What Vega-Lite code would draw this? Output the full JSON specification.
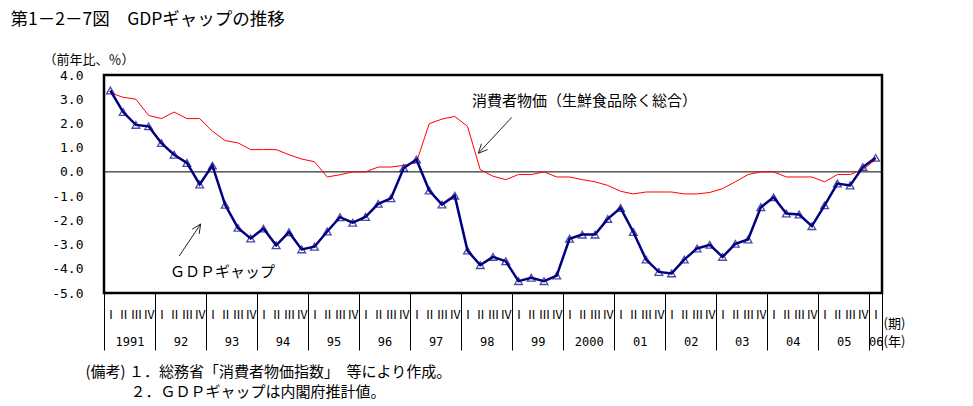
{
  "$schema": "https://vega.github.io/schema/vega-lite/v6.json",
  "width": 778,
  "height": 218,
  "autosize": {"type": "none"},
  "padding": {"left": 104, "top": 75, "right": 91, "bottom": 113},
  "background": "white",
  "config": {
    "view": {"stroke": "black", "strokeWidth": 2.5},
    "font": "Noto Sans CJK JP",
    "axis": {"grid": false},
    "axisY": {
      "ticks": false, "domain": false, "grid": false,
      "labelFont": "DejaVu Sans Mono", "labelFontSize": 13, "labelColor": "black",
      "labelPadding": 21, "labelBaseline": "middle", "labelOverlap": false,
      "titleX": -61, "titleY": -16, "titleAngle": 0,
      "titleAlign": "left", "titleBaseline": "middle",
      "titleFont": "Noto Sans CJK JP", "titleFontSize": 13, "titleFontWeight": "normal", "titleColor": "black"
    }
  },
  "datasets": {
    "series": [
      {"i": 0, "gdp": 3.36, "cpi": 3.26},
      {"i": 1, "gdp": 2.47, "cpi": 3.08},
      {"i": 2, "gdp": 1.94, "cpi": 3.0},
      {"i": 3, "gdp": 1.88, "cpi": 2.33},
      {"i": 4, "gdp": 1.19, "cpi": 2.2},
      {"i": 5, "gdp": 0.71, "cpi": 2.47},
      {"i": 6, "gdp": 0.37, "cpi": 2.2},
      {"i": 7, "gdp": -0.52, "cpi": 2.2},
      {"i": 8, "gdp": 0.26, "cpi": 1.68},
      {"i": 9, "gdp": -1.36, "cpi": 1.29},
      {"i": 10, "gdp": -2.31, "cpi": 1.2},
      {"i": 11, "gdp": -2.75, "cpi": 0.92},
      {"i": 12, "gdp": -2.34, "cpi": 0.92},
      {"i": 13, "gdp": -3.03, "cpi": 0.92},
      {"i": 14, "gdp": -2.49, "cpi": 0.71},
      {"i": 15, "gdp": -3.2, "cpi": 0.53},
      {"i": 16, "gdp": -3.09, "cpi": 0.42},
      {"i": 17, "gdp": -2.46, "cpi": -0.21},
      {"i": 18, "gdp": -1.87, "cpi": -0.12},
      {"i": 19, "gdp": -2.1, "cpi": 0.0},
      {"i": 20, "gdp": -1.86, "cpi": 0.0},
      {"i": 21, "gdp": -1.32, "cpi": 0.2},
      {"i": 22, "gdp": -1.09, "cpi": 0.2},
      {"i": 23, "gdp": 0.16, "cpi": 0.27},
      {"i": 24, "gdp": 0.51, "cpi": 0.4},
      {"i": 25, "gdp": -0.77, "cpi": 1.99},
      {"i": 26, "gdp": -1.35, "cpi": 2.18},
      {"i": 27, "gdp": -0.98, "cpi": 2.29},
      {"i": 28, "gdp": -3.25, "cpi": 1.88},
      {"i": 29, "gdp": -3.85, "cpi": 0.09},
      {"i": 30, "gdp": -3.51, "cpi": -0.18},
      {"i": 31, "gdp": -3.69, "cpi": -0.32},
      {"i": 32, "gdp": -4.51, "cpi": -0.11},
      {"i": 33, "gdp": -4.37, "cpi": -0.11},
      {"i": 34, "gdp": -4.51, "cpi": 0.0},
      {"i": 35, "gdp": -4.28, "cpi": -0.21},
      {"i": 36, "gdp": -2.76, "cpi": -0.21},
      {"i": 37, "gdp": -2.59, "cpi": -0.32},
      {"i": 38, "gdp": -2.59, "cpi": -0.41},
      {"i": 39, "gdp": -1.94, "cpi": -0.56},
      {"i": 40, "gdp": -1.49, "cpi": -0.8},
      {"i": 41, "gdp": -2.48, "cpi": -0.91},
      {"i": 42, "gdp": -3.62, "cpi": -0.83},
      {"i": 43, "gdp": -4.13, "cpi": -0.83},
      {"i": 44, "gdp": -4.19, "cpi": -0.83},
      {"i": 45, "gdp": -3.62, "cpi": -0.91},
      {"i": 46, "gdp": -3.16, "cpi": -0.91},
      {"i": 47, "gdp": -3.01, "cpi": -0.85},
      {"i": 48, "gdp": -3.51, "cpi": -0.69},
      {"i": 49, "gdp": -2.97, "cpi": -0.41},
      {"i": 50, "gdp": -2.79, "cpi": -0.11},
      {"i": 51, "gdp": -1.46, "cpi": 0.0},
      {"i": 52, "gdp": -1.05, "cpi": 0.0},
      {"i": 53, "gdp": -1.72, "cpi": -0.21},
      {"i": 54, "gdp": -1.76, "cpi": -0.21},
      {"i": 55, "gdp": -2.24, "cpi": -0.21},
      {"i": 56, "gdp": -1.38, "cpi": -0.41},
      {"i": 57, "gdp": -0.48, "cpi": -0.11},
      {"i": 58, "gdp": -0.56, "cpi": -0.11},
      {"i": 59, "gdp": 0.2, "cpi": 0.1},
      {"i": 60, "gdp": 0.58, "cpi": 0.5}
    ],
    "zero": [{"v": 0}],
    "notes": [
      {"i": 28.35, "v": 2.93, "label": "消費者物価（生鮮食品除く総合）"},
      {"i": 4.67, "v": -4.12, "label": "ＧＤＰギャップ"}
    ],
    "arrows": [
      {"i": 31.47, "v": 2.25, "i2": 28.85, "v2": 0.77},
      {"i": 28.85, "v": 0.77, "i2": 29.58, "v2": 0.92},
      {"i": 28.85, "v": 0.77, "i2": 29.09, "v2": 1.16},
      {"i": 5.4, "v": -3.47, "i2": 7.08, "v2": -2.15},
      {"i": 7.08, "v": -2.15, "i2": 6.41, "v2": -2.37},
      {"i": 7.08, "v": -2.15, "i2": 6.96, "v2": -2.56}
    ]
  },
  "resolve": {"axis": {"x": "independent"}},
  "layer": [
    {
      "data": {"name": "zero"},
      "mark": {"type": "rule", "color": "black", "strokeWidth": 1},
      "encoding": {
        "y": {"field": "v", "type": "quantitative", "scale": {"domain": [-5, 4], "nice": false, "zero": false},
          "axis": {"values": [-5, -4, -3, -2, -1, 0, 1, 2, 3, 4], "labelExpr": "(datum.value < 0 ? '-' : '') + abs(datum.value) + '.0'", "title": "（前年比、％）"}}
      }
    },
    {
      "data": {"name": "series"},
      "mark": {"type": "line", "color": "#ff0000", "strokeWidth": 1},
      "encoding": {
        "x": {
          "field": "i", "type": "quantitative",
          "scale": {"domain": [-0.5, 60.5], "nice": false, "zero": false},
          "axis": {
            "orient": "bottom",
            "values": [1.5, 5.5, 9.5, 13.5, 17.5, 21.5, 25.5, 29.5, 33.5, 37.5, 41.5, 45.5, 49.5, 53.5, 57.5, 60],
            "labelExpr": "(1991 + floor(datum.value / 4)) == 1991 || (1991 + floor(datum.value / 4)) == 2000 ? toString(1991 + floor(datum.value / 4)) : substring(toString(1991 + floor(datum.value / 4)), 2)",
            "ticks": false, "domain": false, "grid": false,
            "labelFont": "DejaVu Sans Mono", "labelFontSize": 12, "labelColor": "black",
            "labelPadding": 48, "labelBaseline": "middle", "labelAlign": "center",
            "labelOverlap": false, "labelFlush": false,
            "title": "(年)", "titleX": 779, "titleY": 48, "titleAlign": "left", "titleBaseline": "middle",
            "titleFont": "Noto Sans CJK JP", "titleFontSize": 13, "titleFontWeight": "normal", "titleColor": "black"
          }
        },
        "y": {"field": "cpi", "type": "quantitative", "scale": {"domain": [-5, 4], "nice": false, "zero": false},
          "axis": {"values": [-5, -4, -3, -2, -1, 0, 1, 2, 3, 4], "labelExpr": "(datum.value < 0 ? '-' : '') + abs(datum.value) + '.0'", "title": "（前年比、％）"}}
      }
    },
    {
      "data": {"name": "series"},
      "mark": {"type": "line", "color": "#000080", "strokeWidth": 2.5},
      "encoding": {
        "x": {
          "field": "i", "type": "quantitative",
          "scale": {"domain": [-0.5, 60.5], "nice": false, "zero": false},
          "axis": {
            "orient": "bottom",
            "values": [0,1,2,3,4,5,6,7,8,9,10,11,12,13,14,15,16,17,18,19,20,21,22,23,24,25,26,27,28,29,30,31,32,33,34,35,36,37,38,39,40,41,42,43,44,45,46,47,48,49,50,51,52,53,54,55,56,57,58,59,60],
            "labelExpr": "['Ⅰ','Ⅱ','Ⅲ','Ⅳ'][datum.value % 4]",
            "ticks": false, "domain": false, "grid": false,
            "labelFont": "Noto Sans CJK JP", "labelFontSize": 12, "labelColor": "black",
            "labelPadding": 21, "labelBaseline": "middle", "labelAlign": "center",
            "labelOverlap": false, "labelFlush": false,
            "title": "(期)", "titleX": 779, "titleY": 30, "titleAlign": "left", "titleBaseline": "middle",
            "titleFont": "Noto Sans CJK JP", "titleFontSize": 13, "titleFontWeight": "normal", "titleColor": "black"
          }
        },
        "y": {"field": "gdp", "type": "quantitative", "scale": {"domain": [-5, 4], "nice": false, "zero": false},
          "axis": {"values": [-5, -4, -3, -2, -1, 0, 1, 2, 3, 4], "labelExpr": "(datum.value < 0 ? '-' : '') + abs(datum.value) + '.0'", "title": "（前年比、％）"}}
      }
    },
    {
      "data": {"name": "series"},
      "mark": {"type": "point", "shape": "triangle-up", "filled": false, "color": "#000080", "size": 60, "strokeWidth": 1.3},
      "encoding": {
        "x": {
          "field": "i", "type": "quantitative",
          "scale": {"domain": [-0.5, 60.5], "nice": false, "zero": false},
          "axis": {
            "orient": "bottom",
            "values": [-0.5, 3.5, 7.5, 11.5, 15.5, 19.5, 23.5, 27.5, 31.5, 35.5, 39.5, 43.5, 47.5, 51.5, 55.5, 59.5, 60.5],
            "labels": false, "ticks": true, "tickSize": 57, "tickColor": "black", "tickWidth": 1,
            "domain": false, "grid": false,
            "title": "(備考) １．総務省「消費者物価指数」　等により作成。",
            "titleX": -19, "titleY": 78, "titleAlign": "left", "titleBaseline": "middle",
            "titleFont": "Noto Sans CJK JP", "titleFontSize": 15, "titleFontWeight": "normal", "titleColor": "black"
          }
        },
        "y": {"field": "gdp", "type": "quantitative", "scale": {"domain": [-5, 4], "nice": false, "zero": false},
          "axis": {"values": [-5, -4, -3, -2, -1, 0, 1, 2, 3, 4], "labelExpr": "(datum.value < 0 ? '-' : '') + abs(datum.value) + '.0'", "title": "（前年比、％）"}}
      }
    },
    {
      "data": {"name": "notes"},
      "mark": {"type": "text", "font": "Noto Sans CJK JP", "fontSize": 15, "color": "black", "align": "left", "baseline": "middle"},
      "encoding": {
        "x": {
          "field": "i", "type": "quantitative",
          "scale": {"domain": [-0.5, 60.5], "nice": false, "zero": false},
          "axis": {
            "orient": "top", "values": [], "labels": false, "ticks": false, "domain": false, "grid": false,
            "title": "第1－2－7図　GDPギャップの推移",
            "titleX": -94, "titleY": -55.5, "titleAlign": "left", "titleBaseline": "middle",
            "titleFont": "Noto Sans CJK JP", "titleFontSize": 17.5, "titleFontWeight": "normal", "titleColor": "black"
          }
        },
        "y": {"field": "v", "type": "quantitative", "scale": {"domain": [-5, 4], "nice": false, "zero": false},
          "axis": {"values": [-5, -4, -3, -2, -1, 0, 1, 2, 3, 4], "labelExpr": "(datum.value < 0 ? '-' : '') + abs(datum.value) + '.0'", "title": "（前年比、％）"}},
        "text": {"field": "label"}
      }
    },
    {
      "data": {"name": "arrows"},
      "mark": {"type": "rule", "color": "#222222", "strokeWidth": 1},
      "encoding": {
        "x": {
          "field": "i", "type": "quantitative",
          "scale": {"domain": [-0.5, 60.5], "nice": false, "zero": false},
          "axis": {
            "orient": "bottom", "values": [], "labels": false, "ticks": false, "domain": false, "grid": false,
            "title": "２．ＧＤＰギャップは内閣府推計値。",
            "titleX": 26, "titleY": 98, "titleAlign": "left", "titleBaseline": "middle",
            "titleFont": "Noto Sans CJK JP", "titleFontSize": 15, "titleFontWeight": "normal", "titleColor": "black"
          }
        },
        "y": {"field": "v", "type": "quantitative", "scale": {"domain": [-5, 4], "nice": false, "zero": false},
          "axis": {"values": [-5, -4, -3, -2, -1, 0, 1, 2, 3, 4], "labelExpr": "(datum.value < 0 ? '-' : '') + abs(datum.value) + '.0'", "title": "（前年比、％）"}},
        "x2": {"field": "i2"},
        "y2": {"field": "v2"}
      }
    }
  ]
}
